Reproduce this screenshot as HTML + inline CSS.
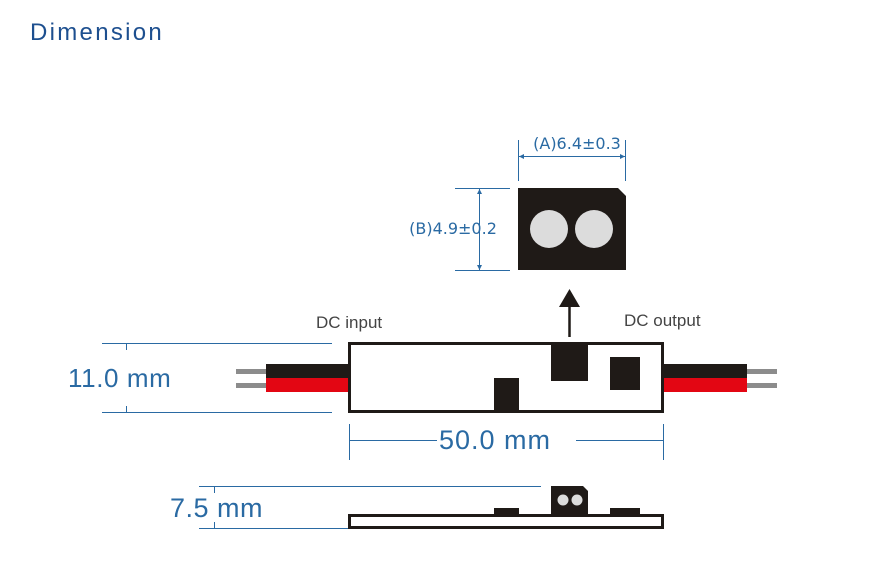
<!DOCTYPE html>
<html><head><meta charset="utf-8"><style>
html,body{margin:0;padding:0;background:#fff;}
svg{display:block;}
</style></head><body>
<svg width="874" height="569" viewBox="0 0 874 569" xmlns="http://www.w3.org/2000/svg">
<rect width="874" height="569" fill="#fff"/>
<text x="30" y="40" font-family="Liberation Sans, sans-serif" font-size="24" letter-spacing="2.3" fill="#1d4f8f">Dimension</text>

<!-- top connector -->
<g stroke="#2a6aa3" stroke-width="1" fill="none">
<line x1="518.5" y1="140" x2="518.5" y2="181"/>
<line x1="625.5" y1="140" x2="625.5" y2="181"/>
<line x1="519" y1="156.5" x2="625" y2="156.5"/>
<line x1="455" y1="188.5" x2="510" y2="188.5"/>
<line x1="455" y1="270.5" x2="510" y2="270.5"/>
<line x1="479.5" y1="189" x2="479.5" y2="270"/>
</g>
<g fill="#2a6aa3">
<path d="M519 156.5 L524 154 L524 159 Z"/>
<path d="M625 156.5 L620 154 L620 159 Z"/>
<path d="M479.5 189 L477 194 L482 194 Z"/>
<path d="M479.5 270 L477 265 L482 265 Z"/>
</g>
<text x="577" y="149" text-anchor="middle" font-family="DejaVu Sans, sans-serif" font-size="16" fill="#2a6aa3">(A)6.4±0.3</text>
<text x="453" y="234" text-anchor="middle" font-family="DejaVu Sans, sans-serif" font-size="16" fill="#2a6aa3">(B)4.9±0.2</text>
<path d="M518 188 L618 188 L626 196 L626 270 L518 270 Z" fill="#1f1a17"/>
<circle cx="549" cy="229" r="19" fill="#dcdcdc"/>
<circle cx="594" cy="229" r="19" fill="#dcdcdc"/>

<!-- arrow -->
<line x1="569.5" y1="305" x2="569.5" y2="337" stroke="#1f1a17" stroke-width="2.5"/>
<path d="M569.5 289 L580 307 L559 307 Z" fill="#1f1a17"/>

<text x="316" y="328" font-family="Liberation Sans, sans-serif" font-size="17" fill="#444">DC input</text>
<text x="624" y="326" font-family="Liberation Sans, sans-serif" font-size="17" fill="#444">DC output</text>

<!-- wires -->
<rect x="236" y="369" width="30" height="5" fill="#8c8c8c"/>
<rect x="236" y="383" width="30" height="5" fill="#8c8c8c"/>
<rect x="266" y="364" width="82" height="14" fill="#1f1a17"/>
<rect x="266" y="378" width="82" height="14" fill="#e30613"/>
<rect x="747" y="369" width="30" height="5" fill="#8c8c8c"/>
<rect x="747" y="383" width="30" height="5" fill="#8c8c8c"/>
<rect x="664" y="364" width="83" height="14" fill="#1f1a17"/>
<rect x="664" y="378" width="83" height="14" fill="#e30613"/>

<!-- main box -->
<rect x="349.5" y="343.5" width="313" height="68" fill="#fff" stroke="#1f1a17" stroke-width="3"/>
<rect x="494" y="378" width="25" height="32" fill="#1f1a17"/>
<rect x="551" y="343" width="37" height="38" fill="#1f1a17"/>
<rect x="610" y="357" width="30" height="33" fill="#1f1a17"/>

<!-- dims -->
<g stroke="#2a6aa3" stroke-width="1">
<line x1="102" y1="343.5" x2="332" y2="343.5"/>
<line x1="102" y1="412.5" x2="332" y2="412.5"/>
<line x1="126.5" y1="344" x2="126.5" y2="350"/>
<line x1="126.5" y1="406" x2="126.5" y2="412"/>
<line x1="349.5" y1="424" x2="349.5" y2="460"/>
<line x1="663.5" y1="424" x2="663.5" y2="460"/>
<line x1="349" y1="440.5" x2="437" y2="440.5"/>
<line x1="576" y1="440.5" x2="663" y2="440.5"/>
<line x1="199" y1="486.5" x2="541" y2="486.5"/>
<line x1="199" y1="528.5" x2="437" y2="528.5"/>
<line x1="214.5" y1="487" x2="214.5" y2="493"/>
<line x1="214.5" y1="522" x2="214.5" y2="528"/>
</g>
<text x="68" y="387" font-family="Liberation Sans, sans-serif" font-size="26" letter-spacing="0.6" fill="#2a6aa3">11.0 mm</text>
<text x="495" y="449" text-anchor="middle" font-family="Liberation Sans, sans-serif" font-size="27" letter-spacing="1" fill="#2a6aa3">50.0 mm</text>
<text x="170" y="517" font-family="Liberation Sans, sans-serif" font-size="27" letter-spacing="0.5" fill="#2a6aa3">7.5 mm</text>

<!-- side view -->
<rect x="349.5" y="515.5" width="313" height="12" fill="none" stroke="#1f1a17" stroke-width="3"/>
<rect x="494" y="508" width="25" height="6" fill="#1f1a17"/>
<rect x="610" y="508" width="30" height="6" fill="#1f1a17"/>
<path d="M551 486 L583 486 L588 491 L588 514 L551 514 Z" fill="#1f1a17"/>
<circle cx="563" cy="500" r="5.5" fill="#dcdcdc"/>
<circle cx="577" cy="500" r="5.5" fill="#dcdcdc"/>
</svg>
</body></html>
